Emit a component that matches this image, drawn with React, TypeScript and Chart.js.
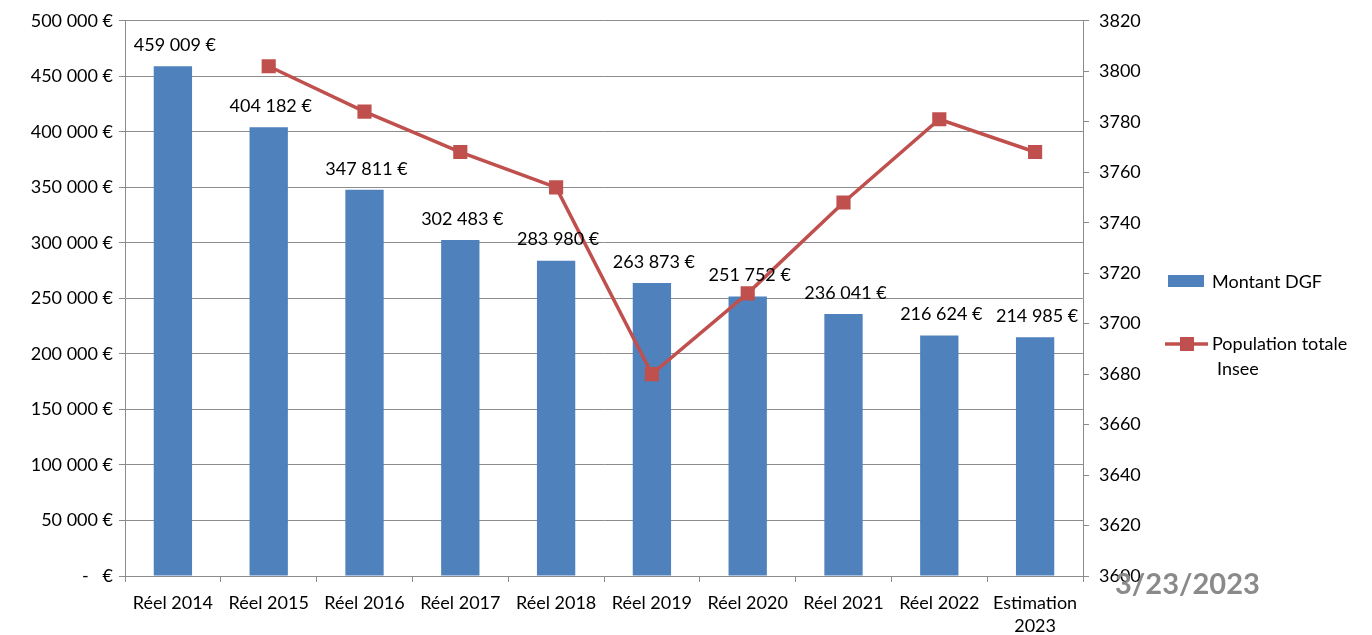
import React, { useEffect, useRef } from "react";
import { Chart, registerables } from "chart.js";

Chart.register(...registerables);

const categories: (string | string[])[] = [
  "Réel 2014",
  "Réel 2015",
  "Réel 2016",
  "Réel 2017",
  "Réel 2018",
  "Réel 2019",
  "Réel 2020",
  "Réel 2021",
  "Réel 2022",
  ["Estimation", "2023"],
];
const montantDGF = [459009, 404182, 347811, 302483, 283980, 263873, 251752, 236041, 216624, 214985];
const population: (number | null)[] = [null, 3802, 3784, 3768, 3754, 3680, 3712, 3748, 3781, 3768];
const legendLabels = ["Montant DGF", ["Population totale", "Insee"]];
const dateText = "3/23/2023";

const FONT = "Lato, 'Open Sans', sans-serif";
const FS = 18;
const BAR = "#4F81BD";
const LINE = "#C0504D";
const GRID = "#8C8C8C";

const fmtEuro = (v: number) =>
  v === 0 ? "-   €" : Math.round(v).toString().replace(/\B(?=(\d{3})+(?!\d))/g, " ") + " €";

const overlayPlugin = {
  id: "overlay",
  afterDatasetsDraw(chart: any) {
    const ctx = chart.ctx;
    const meta = chart.getDatasetMeta(0);
    ctx.save();
    ctx.font = `${FS}px ${FONT}`;
    ctx.fillStyle = "#000";
    ctx.textAlign = "center";
    ctx.textBaseline = "middle";
    meta.data.forEach((el: any, i: number) => {
      ctx.fillText(fmtEuro(montantDGF[i]), el.x + 2, el.y - 21);
    });
    ctx.restore();
  },
  afterDraw(chart: any) {
    const ctx = chart.ctx;
    ctx.save();
    // legend
    ctx.fillStyle = BAR;
    ctx.fillRect(1168, 275, 36, 12);
    ctx.font = `${FS}px ${FONT}`;
    ctx.fillStyle = "#000";
    ctx.textAlign = "left";
    ctx.textBaseline = "middle";
    ctx.fillText(legendLabels[0] as string, 1212, 282);
    ctx.strokeStyle = LINE;
    ctx.lineWidth = 3.5;
    ctx.beginPath();
    ctx.moveTo(1165, 344);
    ctx.lineTo(1208, 344);
    ctx.stroke();
    ctx.fillStyle = LINE;
    ctx.fillRect(1180, 337, 14, 14);
    ctx.fillStyle = "#000";
    const l2 = legendLabels[1] as string[];
    ctx.fillText(l2[0], 1212, 344);
    ctx.fillText(l2[1], 1217, 369);
    // date
    ctx.font = `bold 29px ${FONT}`;
    ctx.fillStyle = "#8A8A8A";
    ctx.textBaseline = "middle";
    ctx.fillText(dateText, 1115, 585);
    ctx.restore();
  },
};

export default function App() {
  const ref = useRef<HTMLCanvasElement | null>(null);
  useEffect(() => {
    if (!ref.current) return;
    const chart = new Chart(ref.current, {
      type: "bar",
      data: {
        labels: categories as any,
        datasets: [
          {
            type: "bar",
            label: "Montant DGF",
            data: montantDGF,
            backgroundColor: BAR,
            yAxisID: "y",
            barPercentage: 0.4,
            categoryPercentage: 1,
            order: 1,
          },
          {
            type: "line",
            label: "Population totale Insee",
            data: population as any,
            borderColor: LINE,
            backgroundColor: LINE,
            borderWidth: 3.5,
            pointStyle: "rect",
            pointRadius: 10,
            pointBorderWidth: 0,
            yAxisID: "y1",
            order: 0,
          } as any,
        ],
      },
      options: {
        responsive: false,
        animation: false,
        layout: { padding: { top: 19, left: 0, right: 0, bottom: 0 } },
        plugins: {
          legend: { display: false },
          tooltip: { enabled: false },
        },
        scales: {
          x: {
            offset: true,
            grid: {
              offset: true,
              drawOnChartArea: false,
              drawTicks: true,
              tickLength: 6,
              color: GRID,
            },
            border: { color: GRID },
            ticks: {
              color: "#000",
              font: { family: FONT, size: FS, lineHeight: 1.3 },
              padding: 9,
              maxRotation: 0,
              autoSkip: false,
            },
            afterFit: (s: any) => {
              s.height = 59;
            },
          },
          y: {
            position: "left",
            min: 0,
            max: 500000,
            ticks: {
              stepSize: 50000,
              color: "#000",
              font: { family: FONT, size: FS },
              padding: 6,
              callback: (v: any) => fmtEuro(Number(v)),
            },
            grid: { color: GRID, tickLength: 6 },
            border: { color: GRID },
            afterFit: (s: any) => {
              s.width = 125;
            },
          },
          y1: {
            position: "right",
            min: 3600,
            max: 3820,
            ticks: {
              stepSize: 20,
              color: "#000",
              font: { family: FONT, size: FS },
              padding: 10,
              callback: (v: any) => String(v),
            },
            grid: { drawOnChartArea: false, color: GRID, tickLength: 6 },
            border: { color: GRID },
            afterFit: (s: any) => {
              s.width = 289;
            },
          },
        },
      },
      plugins: [overlayPlugin],
    });
    return () => chart.destroy();
  }, []);
  return (
    <div style={{ position: "fixed", left: 0, top: 0, width: 1372, height: 635, background: "#fff" }}>
      <canvas ref={ref} width={1372} height={635} style={{ width: 1372, height: 635 }} />
    </div>
  );
}
